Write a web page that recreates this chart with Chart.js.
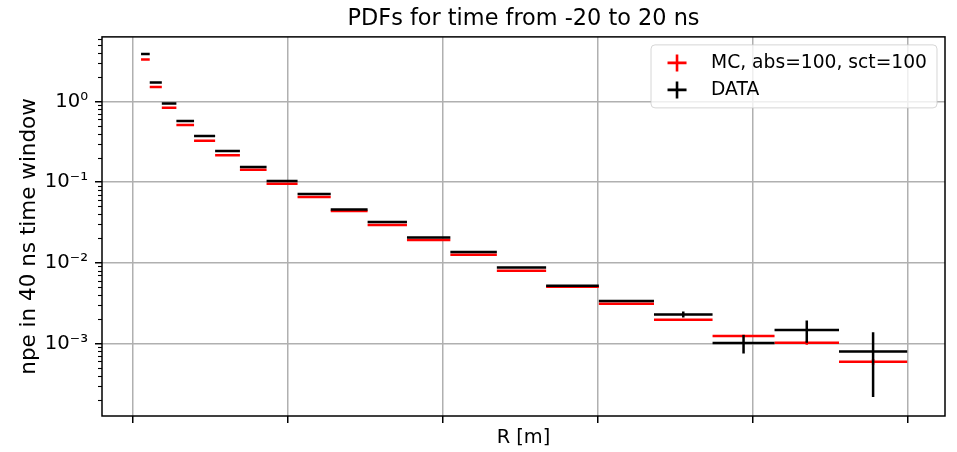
<!DOCTYPE html>
<html>
<head>
<meta charset="utf-8">
<title>PDFs for time from -20 to 20 ns</title>
<script src="https://cdn.jsdelivr.net/npm/chart.js@4.4.1/dist/chart.umd.min.js"></script>
<style>
  html, body { margin: 0; padding: 0; background: #fff; }
  #wrap { position: relative; width: 957px; height: 452px; }
</style>
</head>
<body>
<div id="wrap"><canvas id="pdfChart"></canvas></div>
<script>
// R bin edges (x tick labels are blank in the original plot)
const binEdges = [0.26, 0.54, 0.93, 1.40, 1.97, 2.65, 3.45, 4.31, 5.31, 6.38, 7.57,
  8.84, 10.24, 11.74, 13.33, 15.03, 16.81, 18.70, 20.70, 22.78, 24.98];

// MC, abs=100, sct=100
const mcValues = [3.32, 1.51, 0.835, 0.510, 0.326, 0.215, 0.142, 0.0955, 0.0653, 0.0438,
  0.0294, 0.0191, 0.0126, 0.00797, 0.00505, 0.00311, 0.00197, 0.00124, 0.00102, 0.000593];
const mcErrors = [0.01, 0.005, 0.003, 0.002, 0.001, 0.0007, 0.0005, 0.0003, 0.0002, 0.00015,
  0.0001, 0.00008, 0.00006, 0.00005, 0.00004, 0.00004, 0.00004, 0.00005, 0.00006, 0.00005];

// DATA
const dataValues = [3.87, 1.71, 0.945, 0.571, 0.373, 0.243, 0.154, 0.103, 0.0711, 0.0458,
  0.0320, 0.0206, 0.0136, 0.00875, 0.00519, 0.00336, 0.00229, 0.00101, 0.00147, 0.000796];
const dataErrors = [0.02, 0.008, 0.004, 0.002, 0.0012, 0.0008, 0.0005, 0.0003, 0.0002, 0.00015,
  0.0001, 0.00008, 0.00007, 0.00007, 0.00008, 0.0001, 0.0002, 0.00026, 0.00045, 0.00058];

const xTickValues = [0, 5, 10, 15, 20, 25];
const yTickValues = [1e-3, 1e-2, 1e-1, 1];
const yTickLabels = ["10⁻³", "10⁻²", "10⁻¹", "10⁰"];
const yMinorSteps = [2, 3, 4, 5, 6, 7, 8, 9];
const yDecades = [1e-4, 1e-3, 1e-2, 1e-1, 1];

const X_MIN = -1.0, X_MAX = 26.2;
const Y_MIN = 1.26e-4, Y_MAX = 6.31;
const Y_LABEL = "npe in 40 ns time window";

const FONT = "'DejaVu Sans', 'Liberation Sans', sans-serif";

const yMinorValues = [];
yDecades.forEach((d) => yMinorSteps.forEach((k) => {
  const v = d * k;
  if (v > Y_MIN && v < Y_MAX) yMinorValues.push(v);
}));

// horizontal bin bar + vertical error bar per bin, separated by gaps
function buildSegments(values, errors) {
  const pts = [];
  values.forEach((v, i) => {
    const lo = binEdges[i], hi = binEdges[i + 1];
    const mid = (lo + hi) / 2;
    pts.push({ x: lo, y: v }, { x: hi, y: v }, { x: hi, y: null });
    if (errors[i] > 0) {
      pts.push({ x: mid, y: v - errors[i] }, { x: mid, y: v + errors[i] }, { x: mid, y: null });
    }
  });
  return pts;
}

const framePlugin = {
  id: "frame",
  afterDraw(chart) {
    const { ctx, chartArea: a } = chart;
    const yScale = chart.scales.y;
    ctx.save();

    // minor ticks on y
    ctx.strokeStyle = "#000";
    ctx.lineWidth = 1.1;
    yMinorValues.forEach((v) => {
      const py = Math.round(yScale.getPixelForValue(v)) + 0.5;
      ctx.beginPath();
      ctx.moveTo(a.left - 4, py);
      ctx.lineTo(a.left, py);
      ctx.stroke();
    });

    // axes frame
    ctx.lineWidth = 1.5;
    ctx.strokeRect(a.left, a.top, a.right - a.left, a.bottom - a.top);

    // y axis label (sits a bit below the axes centre in the original)
    ctx.save();
    ctx.translate(29, (a.top + a.bottom) / 2 + 10);
    ctx.rotate(-Math.PI / 2);
    ctx.font = "21.5px " + FONT;
    ctx.fillStyle = "#000";
    ctx.textAlign = "center";
    ctx.textBaseline = "middle";
    ctx.fillText(Y_LABEL, 0, 0);
    ctx.restore();

    // legend, upper right inside the axes
    ctx.font = "18.7px " + FONT;
    const sets = chart.data.datasets;
    const textW = Math.max(...sets.map((d) => ctx.measureText(d.label).width));
    const boxW = 60 + textW + 10, boxH = 63;
    const bx = a.right - 8 - boxW, by = a.top + 8, r = 4;
    ctx.beginPath();
    ctx.moveTo(bx + r, by);
    ctx.arcTo(bx + boxW, by, bx + boxW, by + boxH, r);
    ctx.arcTo(bx + boxW, by + boxH, bx, by + boxH, r);
    ctx.arcTo(bx, by + boxH, bx, by, r);
    ctx.arcTo(bx, by, bx + boxW, by, r);
    ctx.closePath();
    ctx.fillStyle = "rgba(255,255,255,0.8)";
    ctx.fill();
    ctx.strokeStyle = "rgba(204,204,204,0.8)";
    ctx.lineWidth = 1;
    ctx.stroke();

    sets.forEach((d, i) => {
      const cy = by + 18 + 27 * i, cx = bx + 26;
      ctx.strokeStyle = d.borderColor;
      ctx.lineWidth = 2.6;
      ctx.beginPath();
      ctx.moveTo(cx - 9.5, cy);
      ctx.lineTo(cx + 9.5, cy);
      ctx.moveTo(cx, cy - 8.5);
      ctx.lineTo(cx, cy + 8.5);
      ctx.stroke();
      ctx.fillStyle = "#000";
      ctx.textBaseline = "middle";
      ctx.textAlign = "left";
      ctx.fillText(d.label, bx + 60, cy);
    });

    ctx.restore();
  },
};

new Chart(document.getElementById("pdfChart"), {
  type: "scatter",
  data: {
    datasets: [
      {
        label: "MC, abs=100, sct=100",
        data: buildSegments(mcValues, mcErrors),
        borderColor: "#ff0000",
        backgroundColor: "#ff0000",
        showLine: true,
        borderWidth: 2.5,
        pointRadius: 0,
        spanGaps: false,
        order: 1,
      },
      {
        label: "DATA",
        data: buildSegments(dataValues, dataErrors),
        borderColor: "#000000",
        backgroundColor: "#000000",
        showLine: true,
        borderWidth: 2.5,
        pointRadius: 0,
        spanGaps: false,
        order: 0,
      },
    ],
  },
  options: {
    responsive: true,
    maintainAspectRatio: false,
    animation: false,
    events: [],
    layout: { padding: { left: 0, right: 12, top: 0, bottom: 0 } },
    plugins: {
      legend: { display: false },
      tooltip: { enabled: false },
      title: {
        display: true,
        fullSize: false,
        text: "PDFs for time from -20 to 20 ns",
        color: "#000",
        font: { family: FONT, size: 22.4, weight: "normal" },
        padding: { top: 5.5, bottom: 4.5 },
      },
    },
    scales: {
      x: {
        type: "linear",
        min: X_MIN,
        max: X_MAX,
        afterBuildTicks: (s) => { s.ticks = xTickValues.map((v) => ({ value: v })); },
        afterFit: (s) => { s.height = 36; },
        ticks: { autoSkip: false, callback: () => "" },
        grid: { color: "#b0b0b0", lineWidth: 1.5, tickColor: "#000", tickLength: 7, tickWidth: 1.5 },
        border: { display: false },
        title: {
          display: true,
          text: "R [m]",
          color: "#000",
          font: { family: FONT, size: 19.4 },
          padding: { top: 0, bottom: 2.5 },
        },
      },
      y: {
        type: "logarithmic",
        min: Y_MIN,
        max: Y_MAX,
        afterBuildTicks: (s) => {
          s.ticks = yTickValues.concat(yMinorValues)
            .sort((p, q) => p - q)
            .map((v) => ({ value: v, major: yTickValues.includes(v) }));
        },
        afterFit: (s) => { s.width = 102; },
        ticks: {
          autoSkip: false,
          padding: 7,
          color: "#000",
          font: { family: FONT, size: 19.6 },
          callback: (v) => {
            const i = yTickValues.indexOf(v);
            return i >= 0 ? yTickLabels[i] : "";
          },
        },
        grid: {
          color: (c) => (c.tick && c.tick.major ? "#b0b0b0" : "rgba(0,0,0,0)"),
          tickColor: (c) => (c.tick && c.tick.major ? "#000" : "rgba(0,0,0,0)"),
          lineWidth: 1.5,
          tickLength: 7,
          tickWidth: 1.5,
        },
        border: { display: false },
        title: { display: false },
      },
    },
  },
  plugins: [framePlugin],
});
</script>
</body>
</html>
